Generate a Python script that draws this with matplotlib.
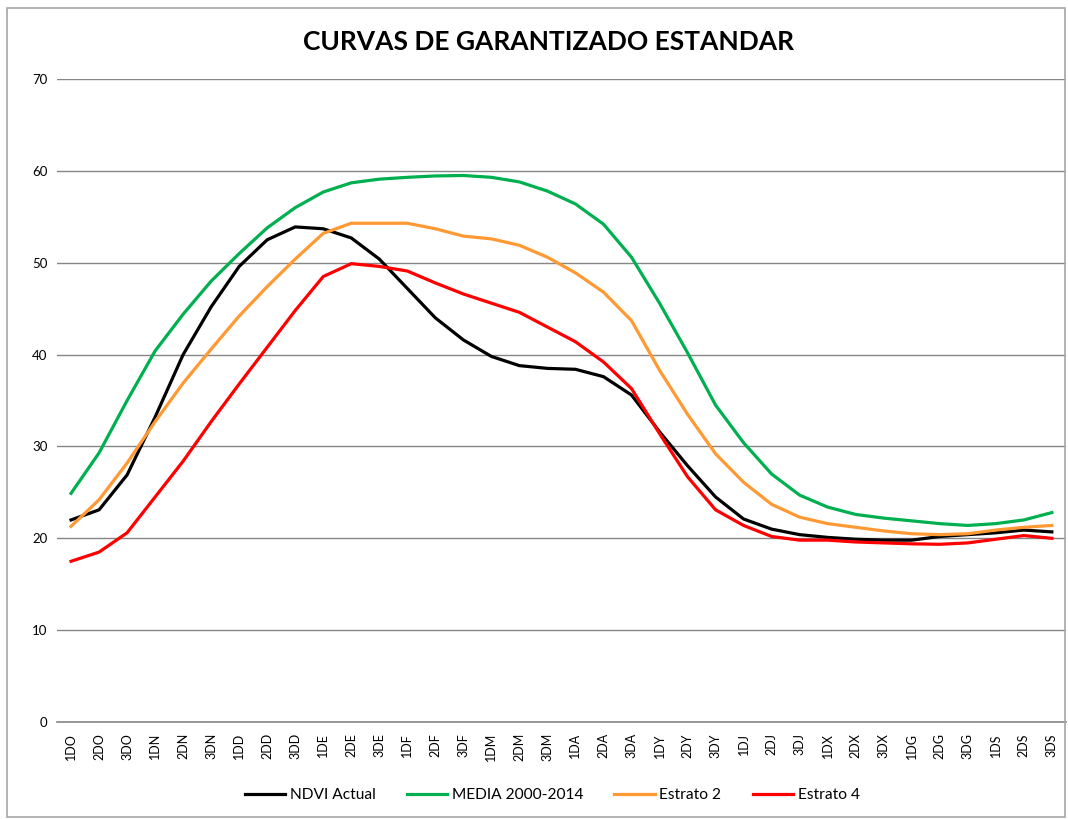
import matplotlib.pyplot as plt
from matplotlib.patches import Rectangle

plt.rcParams['font.family'] = ['Lato', 'DejaVu Sans']

decadas = ['1DO', '2DO', '3DO', '1DN', '2DN', '3DN', '1DD', '2DD', '3DD',
           '1DE', '2DE', '3DE', '1DF', '2DF', '3DF', '1DM', '2DM', '3DM',
           '1DA', '2DA', '3DA', '1DY', '2DY', '3DY', '1DJ', '2DJ', '3DJ',
           '1DX', '2DX', '3DX', '1DG', '2DG', '3DG', '1DS', '2DS', '3DS']

ndvi_actual = [22.0, 23.1, 26.9, 33.2, 40.0, 45.2, 49.6, 52.5, 53.9,
               53.7, 52.7, 50.4, 47.2, 44.0, 41.6, 39.8, 38.8, 38.5,
               38.4, 37.6, 35.6, 31.6, 27.9, 24.5, 22.1, 21.0, 20.4,
               20.1, 19.9, 19.8, 19.8, 20.2, 20.4, 20.6, 20.9, 20.7]

media_2000_2014 = [24.9, 29.3, 35.0, 40.4, 44.4, 48.0, 51.0, 53.8, 56.0,
                   57.7, 58.7, 59.1, 59.3, 59.45, 59.5, 59.3, 58.8, 57.8,
                   56.4, 54.2, 50.6, 45.6, 40.2, 34.5, 30.4, 27.0, 24.7,
                   23.4, 22.6, 22.2, 21.9, 21.6, 21.4, 21.6, 22.0, 22.8]

estrato_2 = [21.3, 24.2, 28.2, 32.7, 36.9, 40.6, 44.2, 47.4, 50.4,
             53.2, 54.3, 54.3, 54.3, 53.7, 52.9, 52.6, 51.9, 50.6,
             48.9, 46.8, 43.7, 38.3, 33.5, 29.2, 26.1, 23.7, 22.3,
             21.6, 21.2, 20.8, 20.5, 20.4, 20.5, 20.9, 21.2, 21.4]

estrato_4 = [17.5, 18.5, 20.6, 24.5, 28.4, 32.7, 36.8, 40.8, 44.8,
             48.5, 49.9, 49.6, 49.1, 47.8, 46.6, 45.6, 44.6, 43.0,
             41.4, 39.2, 36.3, 31.4, 26.7, 23.1, 21.4, 20.2, 19.8,
             19.8, 19.6, 19.5, 19.4, 19.35, 19.5, 19.9, 20.3, 20.0]

fig = plt.figure(figsize=(10.68, 8.19), dpi=100)
ax = fig.add_axes([0.0534, 0.1184, 0.9446, 0.7851])

x = range(len(decadas))
ax.plot(x, ndvi_actual, color='#000000', lw=2.3, label='NDVI Actual')
ax.plot(x, media_2000_2014, color='#00B050', lw=2.3, label='MEDIA 2000-2014')
ax.plot(x, estrato_2, color='#FF9933', lw=2.3, label='Estrato 2')
ax.plot(x, estrato_4, color='#FF0000', lw=2.3, label='Estrato 4')

ax.set_xlim(-0.5, len(decadas) - 0.5)
ax.set_ylim(0, 70)
ax.set_yticks(range(0, 71, 10))
ax.set_xticks(list(x))
ax.set_xticklabels(decadas, rotation=90, fontsize=9)
ax.tick_params(axis='y', labelsize=9.5, length=0, pad=7)
ax.tick_params(axis='x', length=0, pad=8)

ax.grid(axis='y', color='#868686', lw=1)
ax.set_axisbelow(True)
for side in ['top', 'right', 'left']:
    ax.spines[side].set_visible(False)
ax.spines['bottom'].set_color('#868686')
ax.spines['bottom'].set_linewidth(1.2)

fig.text(0.514, 0.949, 'CURVAS DE GARANTIZADO ESTANDAR', ha='center',
         va='center', fontsize=19, fontweight='bold')

fig.legend(loc='center', bbox_to_anchor=(0.517, 0.029), ncol=4,
           frameon=False, fontsize=11.2, handlelength=2.6,
           handletextpad=0.3, columnspacing=2.0)

fig.patches.append(Rectangle((0.007, 0.002), 0.99, 0.988,
                             transform=fig.transFigure, fill=False,
                             edgecolor='#A6A6A6', lw=1.2))

fig.savefig('out.png', dpi=100)
